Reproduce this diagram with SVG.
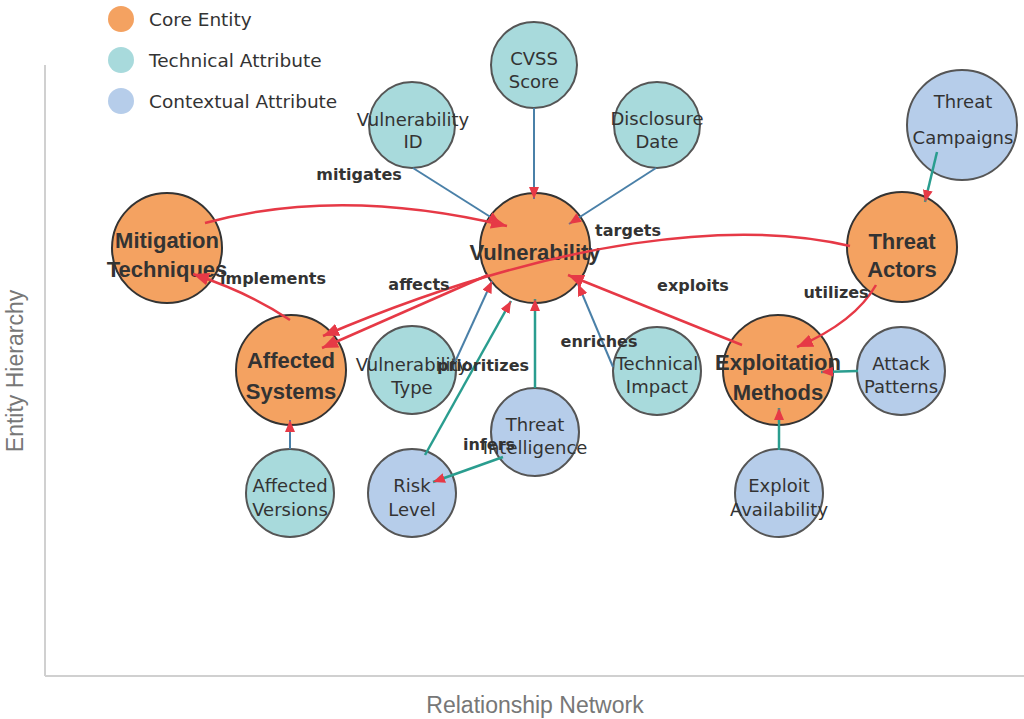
<svg xmlns="http://www.w3.org/2000/svg" width="1024" height="719" viewBox="0 0 1024 719">
<style>
  .core circle { fill: #f4a261; stroke: #333; stroke-width: 2; }
  .tech circle { fill: #a8dadc; stroke: #555; stroke-width: 2; }
  .ctx circle { fill: #b6cdea; stroke: #555; stroke-width: 2; }
  .core text { font-family: "Liberation Sans", Arial, sans-serif; font-weight: bold; font-size: 22px; fill: #333; text-anchor: middle; }
  .tech text, .ctx text { font-family: "DejaVu Sans", Verdana, sans-serif; font-size: 18px; fill: #333; text-anchor: middle; }
  .rel { fill: none; stroke: #e63946; stroke-width: 2.5; marker-end: url(#arrBig); }
  .blue { fill: none; stroke: #4a80a8; stroke-width: 2; marker-end: url(#arr); }
  .teal { fill: none; stroke: #2a9d8f; stroke-width: 2.5; marker-end: url(#arr); }
  .elabel { font-family: "DejaVu Sans", Verdana, sans-serif; font-weight: bold; font-size: 16px; fill: #333; text-anchor: middle; }
  .legend text { font-family: "DejaVu Sans", Verdana, sans-serif; font-size: 18.5px; fill: #333; }
  .axis { stroke: #d0d0d0; stroke-width: 2; }
  .axis-title { font-family: "Liberation Sans", Arial, sans-serif; font-size: 23px; fill: #777; text-anchor: middle; }
</style>
<defs>
  <marker id="arr" viewBox="0 0 12 10" refX="12" refY="5" markerWidth="12" markerHeight="10" orient="auto" markerUnits="userSpaceOnUse">
    <path d="M0,0 L12,5 L0,10 z" fill="#e63946"/>
  </marker>
  <marker id="arrBig" viewBox="0 0 16 13" refX="16" refY="6.5" markerWidth="16" markerHeight="13" orient="auto" markerUnits="userSpaceOnUse">
    <path d="M0,0 L16,6.5 L0,13 z" fill="#e63946"/>
  </marker>
</defs>

<g id="axes">
  <line class="axis" x1="45" y1="65" x2="45" y2="676"/>
  <line class="axis" x1="45" y1="676" x2="1024" y2="676"/>
  <text class="axis-title" x="535" y="713">Relationship Network</text>
  <text class="axis-title" transform="translate(23,371) rotate(-90)">Entity Hierarchy</text>
</g>

<g id="legend" class="legend">
  <circle cx="121" cy="19" r="13" fill="#f4a261"/>
  <text x="149" y="26">Core Entity</text>
  <circle cx="121" cy="60" r="13" fill="#a8dadc"/>
  <text x="149" y="67">Technical Attribute</text>
  <circle cx="121" cy="101" r="13" fill="#b6cdea"/>
  <text x="149" y="108">Contextual Attribute</text>
</g>

<g id="nodes">
  <g id="node-vulnerability" class="core"><circle cx="535" cy="248" r="55"/><text x="535" y="260">Vulnerability</text></g>
  <g id="node-mitigation" class="core"><circle cx="167" cy="248" r="55"/><text x="167" y="248">Mitigation</text><text x="167" y="277">Techniques</text></g>
  <g id="node-threat-actors" class="core"><circle cx="902" cy="247" r="55"/><text x="902" y="249">Threat</text><text x="902" y="277">Actors</text></g>
  <g id="node-affected-systems" class="core"><circle cx="291" cy="370" r="55"/><text x="291" y="368">Affected</text><text x="291" y="399">Systems</text></g>
  <g id="node-exploitation" class="core"><circle cx="778" cy="370" r="55"/><text x="778" y="370">Exploitation</text><text x="778" y="400">Methods</text></g>

  <g id="node-cvss" class="tech"><circle cx="534" cy="65" r="43"/><text x="534" y="65">CVSS</text><text x="534" y="88">Score</text></g>
  <g id="node-vuln-id" class="tech"><circle cx="412" cy="125" r="43"/><text x="413" y="126">Vulnerability</text><text x="413" y="148">ID</text></g>
  <g id="node-disclosure" class="tech"><circle cx="657" cy="125" r="43"/><text x="657" y="125">Disclosure</text><text x="657" y="148">Date</text></g>
  <g id="node-vuln-type" class="tech"><circle cx="412" cy="370" r="44"/><text x="412" y="371">Vulnerability</text><text x="412" y="394">Type</text></g>
  <g id="node-tech-impact" class="tech"><circle cx="657" cy="371" r="44"/><text x="657" y="370">Technical</text><text x="657" y="393">Impact</text></g>
  <g id="node-affected-versions" class="tech"><circle cx="290" cy="493" r="44"/><text x="290" y="492">Affected</text><text x="290" y="516">Versions</text></g>

  <g id="node-risk-level" class="ctx"><circle cx="412" cy="493" r="44"/><text x="412" y="492">Risk</text><text x="412" y="516">Level</text></g>
  <g id="node-threat-intel" class="ctx"><circle cx="535" cy="432" r="44"/><text x="535" y="431">Threat</text><text x="535" y="454">Intelligence</text></g>
  <g id="node-attack-patterns" class="ctx"><circle cx="901" cy="371" r="44"/><text x="901" y="370">Attack</text><text x="901" y="393">Patterns</text></g>
  <g id="node-exploit-avail" class="ctx"><circle cx="779" cy="493" r="44"/><text x="779" y="492">Exploit</text><text x="779" y="516">Availability</text></g>
  <g id="node-threat-campaigns" class="ctx"><circle cx="962" cy="125" r="55"/><text x="963" y="108">Threat</text><text x="963" y="144">Campaigns</text></g>
</g>

<g id="connectors">
  <path class="blue" d="M534,108 L534,199"/>
  <path class="blue" d="M413,168 L500,223"/>
  <path class="blue" d="M656,168 L569,224"/>
  <path class="blue" d="M455,362 L492,281"/>
  <path class="blue" d="M613,367 L578,284"/>
  <path class="blue" d="M290,449 L290,420"/>
  <path class="teal" d="M535,388 L535,299"/>
  <path class="teal" d="M425,455 L511,301"/>
  <path class="teal" d="M503,457 L433,482"/>
  <path class="teal" d="M937,152 L925,202"/>
  <path class="teal" d="M858,371 L821,372"/>
  <path class="teal" d="M779,450 L779,408"/>
  <path class="rel" d="M205,223 Q340,186 507,226"/>
  <path class="rel" d="M850,246 C740,220 560,235 323,336"/>
  <path class="rel" d="M488,275 L322,348"/>
  <path class="rel" d="M290,320 Q250,293 193,274"/>
  <path class="rel" d="M742,345 L568,275"/>
  <path class="rel" d="M876,285 Q855,322 797,347"/>
</g>

<g id="connector-labels">
  <text class="elabel" x="359" y="180">mitigates</text>
  <text class="elabel" x="628" y="236">targets</text>
  <text class="elabel" x="419" y="290">affects</text>
  <text class="elabel" x="273" y="284">implements</text>
  <text class="elabel" x="693" y="291">exploits</text>
  <text class="elabel" x="836" y="298">utilizes</text>
  <text class="elabel" x="599" y="347">enriches</text>
  <text class="elabel" x="483" y="371">prioritizes</text>
  <text class="elabel" x="489" y="450">infers</text>
</g>
</svg>
